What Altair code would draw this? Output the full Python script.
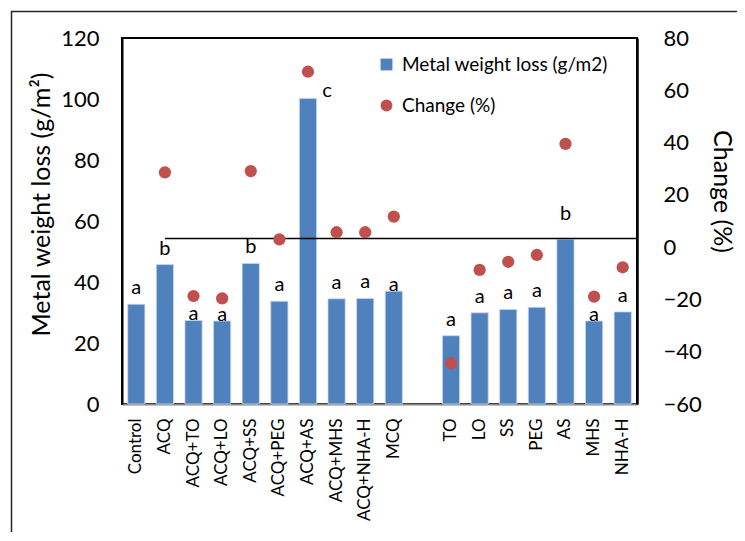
import altair as alt
import pandas as pd

# ---------------- data ----------------
categories = ["Control", "ACQ", "ACQ+TO", "ACQ+LO", "ACQ+SS", "ACQ+PEG", "ACQ+AS",
              "ACQ+MHS", "ACQ+NHA-H", "MCQ", " ", "TO", "LO", "SS", "PEG", "AS",
              "MHS", "NHA-H"]
weight_loss = [32.7, 45.7, 27.4, 27.2, 46.1, 33.7, 100.2, 34.5, 34.6, 37.0, None,
               22.4, 29.9, 31.0, 31.7, 54.0, 27.2, 30.2]
change_pct = [None, 28.6, -18.7, -19.6, 29.1, 3.0, 67.1, 5.7, 5.7, 11.7, None,
              -44.4, -8.7, -5.6, -3.0, 39.5, -18.9, -7.7]
letters = ["a", "b", "a", "a", "b", "a", "c", "a", "a", "a", "",
           "a", "a", "a", "a", "b", "a", "a"]
letter_place = ["above", "above", "close", "close", "above", "above", "side",
                "above", "above", "close", "", "above", "above", "above", "above",
                "high", "close", "above"]
ref_line_start = ["ACQ"]
ref_line_change = [3.3]
series_names = ["Metal weight loss (g/m2)", "Change (%)"]

# ---------------- style ----------------
FONT = "Lato"
BAR_COLOR = "#4F81BD"
DOT_COLOR = "#C0504D"
W, H = 515, 366

df = pd.DataFrame({
    "cat": categories,
    "weight": weight_loss,
    "change": change_pct,
    "letter": letters,
    "place": letter_place,
})
df["series"] = series_names[1]

x_scale = alt.Scale(domain=categories, paddingInner=0.4, paddingOuter=0.2)
left_scale = alt.Scale(domain=[0, 120], nice=False)
right_scale = alt.Scale(domain=[-60, 80], nice=False)

x_axis = alt.Axis(
    title=None, labelAngle=-90, labelAlign="right", labelBaseline="middle",
    labelPadding=14, ticks=False, domainColor="#868686", domainWidth=2,
    labelFontSize=17, labelColor="black", labelFont=FONT, labelLimit=0,
)
left_axis = alt.Axis(
    title="Metal weight loss (g/m²)", values=list(range(0, 121, 20)), grid=False,
    ticks=False, domainColor="black", domainWidth=2, labelFontSize=22,
    labelPadding=23, titleFontSize=25, titleFontWeight="normal",
    titleX=-68, titleY=166, titleColor="black", labelColor="black",
    labelFont=FONT, titleFont=FONT,
)
right_axis = alt.Axis(
    title="Change (%)", orient="right", values=list(range(-60, 81, 20)), grid=False,
    ticks=False, domainColor="black", domainWidth=2.5, labelFontSize=22,
    labelPadding=26, titleFontSize=25, titleFontWeight="normal",
    titleX=71, titleY=153, titleColor="black", labelColor="black",
    labelFont=FONT, titleFont=FONT,
)

X = alt.X("cat:N", sort=categories, scale=x_scale, axis=x_axis)
Y_LEFT = alt.Y("weight:Q", scale=left_scale, axis=left_axis)

base = alt.Chart(df)

bars = base.mark_bar(color=BAR_COLOR, stroke="#C9D8EC", strokeWidth=0.8).encode(
    x=X, y=Y_LEFT,
)

offsets = {"above": (0, -16), "close": (0, -6), "high": (0, -25), "side": (19, -7)}
texts = []
for place, (dx, dy) in offsets.items():
    texts.append(
        base.transform_filter(alt.datum.place == place)
        .mark_text(dx=dx, dy=dy, fontSize=20, font=FONT, baseline="middle",
                   align="center", color="black")
        .encode(x=X, y=Y_LEFT, text="letter:N")
    )

legend = alt.Legend(
    title=None, orient="none", legendX=255, legendY=17, padding=0,
    labelFontSize=19, labelFont=FONT, labelColor="black", symbolSize=140,
    rowPadding=21, labelOffset=6, symbolStrokeWidth=0, labelLimit=0,
)

points = base.mark_point(filled=True, size=150, opacity=1).encode(
    x=X,
    y=alt.Y("change:Q", scale=right_scale, axis=right_axis),
    color=alt.Color("series:N", scale=alt.Scale(domain=series_names,
                                                range=[BAR_COLOR, DOT_COLOR]),
                    legend=legend),
    shape=alt.Shape("series:N", scale=alt.Scale(domain=series_names,
                                                range=["square", "circle"]),
                    legend=legend),
)

rule_df = pd.DataFrame({"cat": ref_line_start, "ref": ref_line_change})
rule = alt.Chart(rule_df).mark_rule(color="black", strokeWidth=1.6).encode(
    x=alt.X("cat:N", sort=categories, scale=x_scale, axis=x_axis, bandPosition=0.5),
    x2=alt.value("width"),
    y=alt.Y("ref:Q", scale=right_scale, axis=right_axis),
)

frame = alt.Chart(alt.Data(values=[{}])).mark_rect(
    fillOpacity=0, stroke="#262626", strokeWidth=1.5
).encode(
    x=alt.value(-110.5), x2=alt.value(1200), y=alt.value(-26.5), y2=alt.value(1200)
)

left = alt.layer(bars, *texts)
right = alt.layer(rule, points)

chart = (
    alt.layer(frame, left, right)
    .resolve_scale(y="independent")
    .properties(
        width=W, height=H,
        autosize=alt.AutoSizeParams(type="none"),
        padding={"left": 114, "top": 30, "right": 100, "bottom": 128},
        background="white",
    )
    .configure_view(stroke="black", strokeWidth=2)
)

chart.save("out.html", embed_options={"renderer": "svg", "actions": False})
